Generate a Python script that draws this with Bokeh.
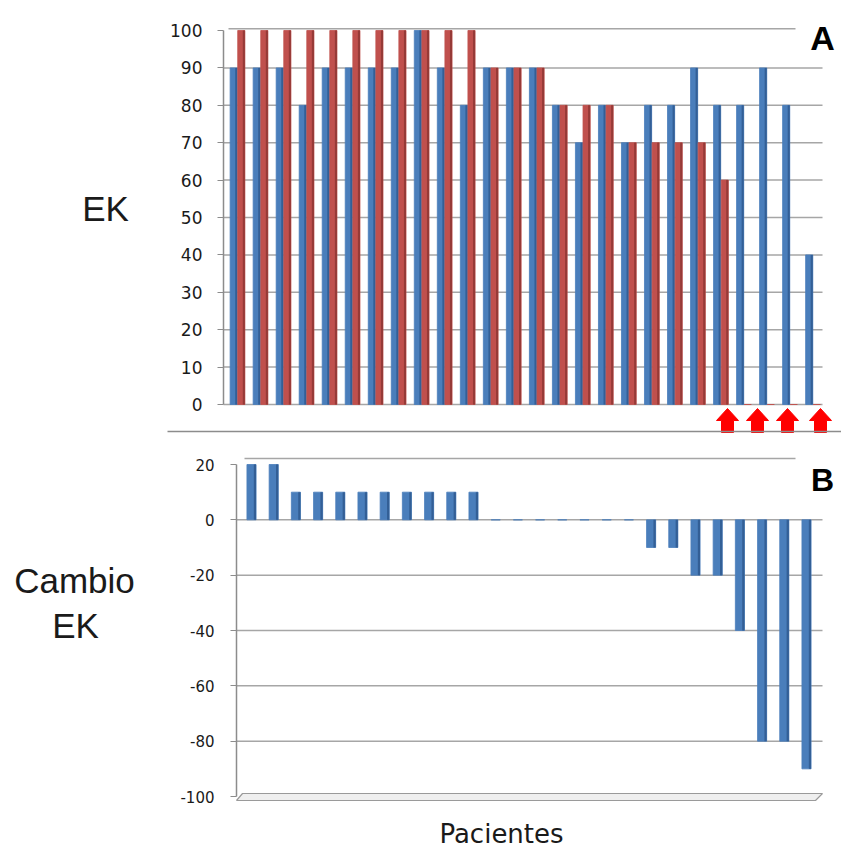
from bokeh.plotting import figure
from bokeh.layouts import column
from bokeh.models import Range1d, FixedTicker, Label
from bokeh.embed import file_html
from bokeh.resources import INLINE

# ---------------- data ----------------
patients = list(range(1, 27))
ek_before = [90, 90, 90, 80, 90, 90, 90, 90, 100, 90, 80, 90, 90, 90, 80, 70,
             80, 70, 80, 80, 90, 80, 80, 90, 80, 40]
ek_after = [100, 100, 100, 100, 100, 100, 100, 100, 100, 100, 100, 90, 90, 90,
            80, 80, 80, 70, 70, 70, 70, 60, 0, 0, 0, 0]
ek_ticks = [0, 10, 20, 30, 40, 50, 60, 70, 80, 90, 100]

ek_change = [20, 20, 10, 10, 10, 10, 10, 10, 10, 10, 10, 0, 0, 0, 0, 0, 0, 0,
             -10, -10, -20, -20, -40, -80, -80, -90]
change_ticks = [20, 0, -20, -40, -60, -80, -100]

BLUE = "#4a7ebb"
BLUE_D = "#335f96"
RED = "#c0504d"
RED_D = "#963a37"
GRID = "#a6a6a6"
AXIS = "#8c8c8c"
TXT = "#1a1a1a"

# ---------------- panel A geometry (frame = whole canvas) ----------------
A_W, A_H = 841, 440
A_X1, A_DX = 237.0, 23.02       # pixel of patient 1, px per patient
A_Y0, A_DY = 404.0, 3.74        # pixel of value 0, px per unit


def ax(px):
    return 1 + (px - A_X1) / A_DX


def ay(py):
    return (A_Y0 - py) / A_DY


pa = figure(width=A_W, height=A_H,
            x_range=Range1d(ax(0), ax(A_W)),
            y_range=Range1d(ay(A_H), ay(0)),
            output_backend="svg", toolbar_location=None, x_axis_location=None,
            min_border_left=0, min_border_right=0, min_border_top=0,
            min_border_bottom=0, title=None)
pa.outline_line_color = None
pa.grid.visible = False
pa.background_fill_color = "white"

xa0 = ax(223)
xa_end = ax(822)
grid_a = [t for t in ek_ticks if t < 100]
pa.segment(x0=[xa0] * len(grid_a), y0=grid_a, x1=[xa_end] * len(grid_a), y1=grid_a,
           line_color=GRID, line_width=1.5)
pa.segment(x0=[ax(228)], y0=[100.5], x1=[ax(795)], y1=[100.5],
           line_color=GRID, line_width=1.5)

bw_a = 0.31
off_a = 0.165
strip_a = 0.09
xb = [i - off_a for i in patients]
xr = [i + off_a for i in patients]
pa.vbar(x=xb, top=ek_before, bottom=0, width=bw_a, fill_color=BLUE,
        line_color=BLUE, line_width=0.8)
pa.vbar(x=[x + bw_a / 2 - strip_a / 2 for x in xb], top=ek_before, bottom=0,
        width=strip_a, fill_color=BLUE_D, line_color=None)
pa.vbar(x=xr, top=ek_after, bottom=0, width=bw_a, fill_color=RED,
        line_color=RED, line_width=0.8)
pa.vbar(x=[x + bw_a / 2 - strip_a / 2 for x in xr], top=ek_after, bottom=0,
        width=strip_a, fill_color=RED_D, line_color=None)

# red arrows marking patients with no post value
arrow_px = [727, 757, 787, 820]
axs, ays = [], []
hw, sw = 11 / A_DX, 6 / A_DX
yt, yh, ys = ay(408), ay(420), ay(432)
for p in arrow_px:
    c = ax(p)
    axs.append([c, c + hw, c + sw, c + sw, c - sw, c - sw, c - hw])
    ays.append([yt, yh, yh, ys, ys, yh, yh])
pa.patches(xs=axs, ys=ays, fill_color="#ff0000", line_color="#ff0000")

# separating line under panel A
pa.segment(x0=[ax(167)], y0=[ay(431)], x1=[ax(841)], y1=[ay(431)],
           line_color=AXIS, line_width=1.5)

pa.yaxis.fixed_location = ax(223)
pa.yaxis.ticker = FixedTicker(ticks=ek_ticks)
pa.yaxis.bounds = (0, 100)
pa.yaxis.axis_line_color = AXIS
pa.yaxis.axis_line_width = 1.5
pa.yaxis.major_tick_line_color = AXIS
pa.yaxis.major_tick_out = 6
pa.yaxis.major_tick_in = 0
pa.yaxis.minor_tick_line_color = None
pa.yaxis.major_label_standoff = 15
pa.yaxis.major_label_text_font = "DejaVu Sans"
pa.yaxis.major_label_text_font_size = "17px"
pa.yaxis.major_label_text_color = TXT

pa.add_layout(Label(x=ax(105), y=ay(208), text="EK", text_align="center",
                    text_baseline="middle", text_font="Liberation Sans",
                    text_font_size="35px", text_color=TXT))
pa.add_layout(Label(x=ax(822), y=ay(37), text="A", text_align="center",
                    text_baseline="middle", text_font="Liberation Sans",
                    text_font_style="bold", text_font_size="34px", text_color="#000000"))

# ---------------- panel B geometry (frame = whole canvas) ----------------
B_W, B_H = 841, 408
B_OFF = 440                       # page y of panel B top
B_X1, B_DX = 251.0, 22.2
B_Y20, B_DY = 464.0, 2.767


def bx(px):
    return 1 + (px - B_X1) / B_DX


def by(py):
    return 20 - (py - B_Y20) / B_DY


pb = figure(width=B_W, height=B_H,
            x_range=Range1d(bx(0), bx(B_W)),
            y_range=Range1d(by(B_OFF + B_H), by(B_OFF)),
            output_backend="svg", toolbar_location=None, x_axis_location=None,
            min_border_left=0, min_border_right=0, min_border_top=0,
            min_border_bottom=0, title=None)
pb.outline_line_color = None
pb.grid.visible = False
pb.background_fill_color = "white"

xb0 = bx(236)
xb_end = bx(822)
grid_b = [t for t in change_ticks if -100 < t < 20]
pb.segment(x0=[xb0] * len(grid_b), y0=grid_b, x1=[xb_end] * len(grid_b), y1=grid_b,
           line_color=GRID, line_width=1.5)
pb.segment(x0=[bx(244)], y0=[by(458)], x1=[bx(795)], y1=[by(458)],
           line_color=GRID, line_width=1.5)
# floor
pb.patch(x=[bx(242), bx(822), bx(815), bx(236)],
         y=[by(793), by(793), by(800), by(800)],
         fill_color="#efefef", line_color="#9a9a9a", line_width=1.2)

bw_b = 0.41
strip_b = 0.1
pb.vbar(x=patients, top=ek_change, bottom=0, width=bw_b, fill_color=BLUE,
        line_color=BLUE, line_width=0.8)
pb.vbar(x=[i + bw_b / 2 - strip_b / 2 for i in patients], top=ek_change, bottom=0,
        width=strip_b, fill_color=BLUE_D, line_color=None)

pb.yaxis.fixed_location = bx(236)
pb.yaxis.ticker = FixedTicker(ticks=change_ticks)
pb.yaxis.major_label_overrides = {t: str(t) for t in change_ticks}
pb.yaxis.bounds = (-100, 20)
pb.yaxis.axis_line_color = AXIS
pb.yaxis.axis_line_width = 1.5
pb.yaxis.major_tick_line_color = AXIS
pb.yaxis.major_tick_out = 6
pb.yaxis.major_tick_in = 0
pb.yaxis.minor_tick_line_color = None
pb.yaxis.major_label_standoff = 16
pb.yaxis.major_label_text_font = "DejaVu Sans"
pb.yaxis.major_label_text_font_size = "15px"
pb.yaxis.major_label_text_color = TXT

pb.add_layout(Label(x=bx(74), y=by(580), text="Cambio", text_align="center",
                    text_baseline="middle", text_font="Liberation Sans",
                    text_font_size="35px", text_color=TXT))
pb.add_layout(Label(x=bx(75), y=by(625), text="EK", text_align="center",
                    text_baseline="middle", text_font="Liberation Sans",
                    text_font_size="35px", text_color=TXT))
pb.add_layout(Label(x=bx(501), y=by(833), text="Pacientes", text_align="center",
                    text_baseline="middle", text_font="DejaVu Sans",
                    text_font_size="26px", text_color=TXT))
pb.add_layout(Label(x=bx(822), y=by(479), text="B", text_align="center",
                    text_baseline="middle", text_font="Liberation Sans",
                    text_font_style="bold", text_font_size="32px", text_color="#000000"))

layout = column(pa, pb, spacing=0)
open("out.html", "w").write(file_html(layout, INLINE))
